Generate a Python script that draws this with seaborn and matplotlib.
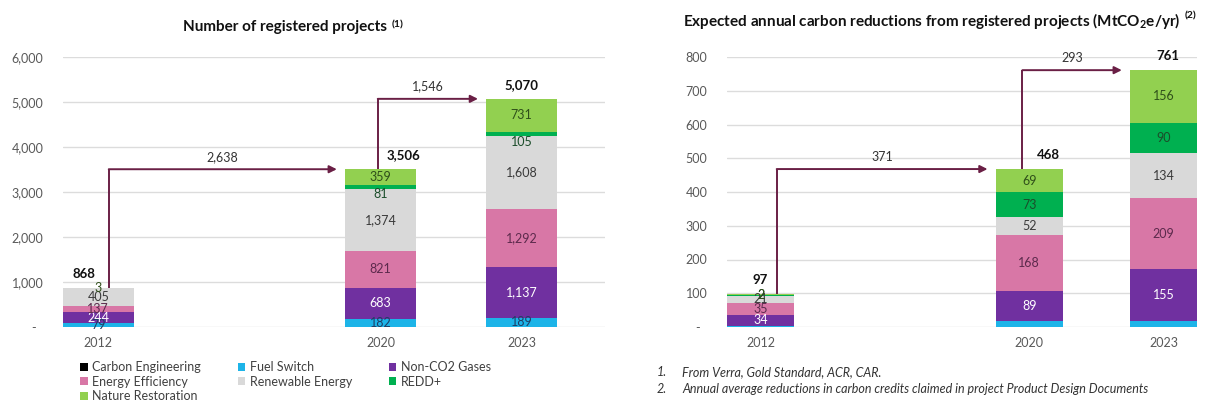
import numpy as np
import pandas as pd
import matplotlib
matplotlib.use("Agg")
import matplotlib.pyplot as plt
from matplotlib.patches import Patch
import seaborn as sns

# ---------------- data ----------------
years = ["2012", "2020", "2023"]
slot_order = ["2012", "", "2020", "2023"]   # empty slot = gap between 2012 and 2020

series = ["Carbon Engineering", "Fuel Switch", "Non-CO2 Gases", "Energy Efficiency",
          "Renewable Energy", "REDD+", "Nature Restoration"]

# Number of registered projects
proj_carbon_eng = [0, 6, 8]
proj_fuel_switch = [79, 182, 189]
proj_non_co2 = [244, 683, 1137]
proj_energy_eff = [137, 821, 1292]
proj_renewable = [405, 1374, 1608]
proj_redd = [0, 81, 105]
proj_nature = [3, 359, 731]
proj_totals = [868, 3506, 5070]
proj_growth = ["2,638", "1,546"]
proj_yticks = [0, 1000, 2000, 3000, 4000, 5000, 6000]
proj_ytick_labels = ["-  ", "1,000", "2,000", "3,000", "4,000", "5,000", "6,000"]

# Expected annual carbon reductions (MtCO2e/yr)
red_carbon_eng = [0, 0, 0]
red_fuel_switch = [3, 17, 17]
red_non_co2 = [34, 89, 155]
red_energy_eff = [35, 168, 209]
red_renewable = [21, 52, 134]
red_redd = [2, 73, 90]
red_nature = [2, 69, 156]
red_totals = [97, 468, 761]
red_growth = ["371", "293"]
red_yticks = [0, 100, 200, 300, 400, 500, 600, 700, 800]
red_ytick_labels = ["-  ", "100", "200", "300", "400", "500", "600", "700", "800"]

legend_order = ["Carbon Engineering", "Energy Efficiency", "Nature Restoration",
                "Fuel Switch", "Renewable Energy", "Non-CO2 Gases", "REDD+"]

# ---------------- style ----------------
colors = {"Carbon Engineering": "#000000", "Fuel Switch": "#1db4e8",
          "Non-CO2 Gases": "#7030a0", "Energy Efficiency": "#d877a6",
          "Renewable Energy": "#d9d9d9", "REDD+": "#00b050",
          "Nature Restoration": "#92d050"}
text_colors = {"Carbon Engineering": "#ffffff", "Fuel Switch": "#1f3f66",
               "Non-CO2 Gases": "#ffffff", "Energy Efficiency": "#5c2a4c",
               "Renewable Energy": "#3a3a3a", "REDD+": "#1b4d2a",
               "Nature Restoration": "#2f4f1a"}
arrow_color = "#6a1f45"
grey_text = "#595959"

sns.set_theme(style="white")
plt.rcParams["font.family"] = ["Lato", "DejaVu Sans"]
plt.rcParams["mathtext.fontset"] = "custom"
plt.rcParams["mathtext.rm"] = "Lato"
plt.rcParams["mathtext.bf"] = "Lato:bold"

fig = plt.figure(figsize=(12.14, 4.05), dpi=100)
ax1 = fig.add_axes([63 / 1214, 1 - 327 / 405, (605 - 63) / 1214, 270 / 405])
ax2 = fig.add_axes([727 / 1214, 1 - 327 / 405, (1197 - 727) / 1214, 270 / 405])

pos = {y: slot_order.index(y) for y in years}


def draw_panel(ax, values, totals, growth, ymax, yticks, yticklabels, xmax,
               unlabeled, total_dx, arrow_dx):
    bottoms = np.zeros(len(years))
    for name, vals in zip(series, values):
        vals = np.asarray(vals, dtype=float)
        df = pd.DataFrame({"year": years, "value": vals})
        sns.barplot(data=df, x="year", y="value", order=slot_order,
                    color=colors[name], saturation=1, width=0.5, errorbar=None,
                    bottom=bottoms.copy(), linewidth=0, ax=ax)
        if name not in unlabeled:
            for i, y in enumerate(years):
                v = vals[i]
                if v <= 0:
                    continue
                yc = bottoms[i] + v / 2
                if name == "REDD+" and v < 0.04 * ymax and v > 10:
                    yc = bottoms[i] - 0.02 * ymax
                ax.text(pos[y], yc, f"{int(v):,}", ha="center", va="center",
                        fontsize=9, color=text_colors[name])
        bottoms += vals

    # totals
    for i, y in enumerate(years):
        ax.annotate(f"{totals[i]:,}", xy=(pos[y] + total_dx[i], totals[i]),
                    xytext=(0, 10), textcoords="offset points",
                    ha="center", va="center", fontsize=9.5, fontweight="bold",
                    color="#111111")

    # growth arrows
    for k in range(2):
        src, dst = years[k], years[k + 1]
        x0 = pos[src] + arrow_dx[k]
        x1 = pos[dst] - 0.31
        y0 = totals[k]
        y1 = totals[k + 1]
        ax.plot([x0, x0], [y0, y1], color=arrow_color, lw=1.4,
                solid_capstyle="butt", zorder=5)
        ax.annotate("", xy=(x1, y1), xytext=(x0, y1),
                    arrowprops=dict(arrowstyle="-|>", color=arrow_color, lw=1.4,
                                    mutation_scale=11, shrinkA=0, shrinkB=0),
                    zorder=5)
        ax.annotate(growth[k], xy=((x0 + x1) / 2, y1), xytext=(0, 9),
                    textcoords="offset points", ha="center", va="center",
                    fontsize=9, color="#333333")

    ax.set_ylim(0, ymax)
    ax.set_xlim(-0.25, xmax)
    ax.set_yticks(yticks)
    ax.set_yticklabels(yticklabels)
    ax.set_xticks([pos[y] for y in years])
    ax.set_xticklabels(years)
    ax.set_xlabel("")
    ax.set_ylabel("")
    ax.yaxis.grid(True, color="#dcdcdc", lw=1)
    ax.set_axisbelow(True)
    for s in ax.spines.values():
        s.set_visible(False)
    ax.tick_params(axis="y", length=0, pad=14, labelsize=9, labelcolor=grey_text)
    ax.tick_params(axis="x", length=0, pad=7, labelsize=9, labelcolor=grey_text)


draw_panel(ax1,
           [proj_carbon_eng, proj_fuel_switch, proj_non_co2, proj_energy_eff,
            proj_renewable, proj_redd, proj_nature],
           proj_totals, proj_growth, 6000, proj_yticks, proj_ytick_labels, 3.59,
           unlabeled={"Carbon Engineering"}, total_dx=[-0.10, 0.16, 0.0],
           arrow_dx=[0.074, -0.02])
draw_panel(ax2,
           [red_carbon_eng, red_fuel_switch, red_non_co2, red_energy_eff,
            red_renewable, red_redd, red_nature],
           red_totals, red_growth, 800, red_yticks, red_ytick_labels, 3.25,
           unlabeled={"Carbon Engineering", "Fuel Switch"},
           total_dx=[0.0, 0.14, 0.03], arrow_dx=[0.12, -0.05])

# titles
t1 = fig.text(285 / 1214, 1 - 27 / 405, "Number of registered projects",
              ha="center", va="center", fontsize=11, fontweight="bold",
              color="#111111")
ax1.annotate("(1)", xy=(1, 1), xycoords=t1, xytext=(3, 0),
             textcoords="offset points", ha="left", va="top", fontsize=7.5,
             fontweight="bold", color="#111111", annotation_clip=False)
t2 = fig.text(932 / 1214, 1 - 21 / 405,
              r"Expected annual carbon reductions from registered projects (MtCO$_\mathbf{2}$e/yr)",
              ha="center", va="center", fontsize=11, fontweight="bold",
              color="#111111")
ax2.annotate("(2)", xy=(1, 1), xycoords=t2, xytext=(3, 0),
             textcoords="offset points", ha="left", va="top", fontsize=7.5,
             fontweight="bold", color="#111111", annotation_clip=False)

# legend
handles = [Patch(facecolor=colors[n], edgecolor="none") for n in legend_order]
leg = fig.legend(handles, legend_order, ncol=3, loc="upper left",
                 bbox_to_anchor=(80 / 1214, 1 - 361 / 405), frameon=False,
                 handlelength=0.6, handleheight=0.6, handletextpad=0.4,
                 columnspacing=2.9, labelspacing=0.2, borderpad=0,
                 borderaxespad=0, fontsize=9)
for txt in leg.get_texts():
    txt.set_color("#404040")

# footnotes
notes = ["From Verra, Gold Standard, ACR, CAR.",
         "Annual average reductions in carbon credits claimed in project Product Design Documents"]
for i, n in enumerate(notes):
    yy = 1 - (372 + 17 * i) / 405
    fig.text(657 / 1214, yy, f"{i + 1}.", ha="left", va="center", fontsize=9,
             style="italic", color="#333333")
    fig.text(682 / 1214, yy, n, ha="left", va="center", fontsize=9,
             style="italic", color="#333333")

fig.savefig("out.png", dpi=100, facecolor="white")
